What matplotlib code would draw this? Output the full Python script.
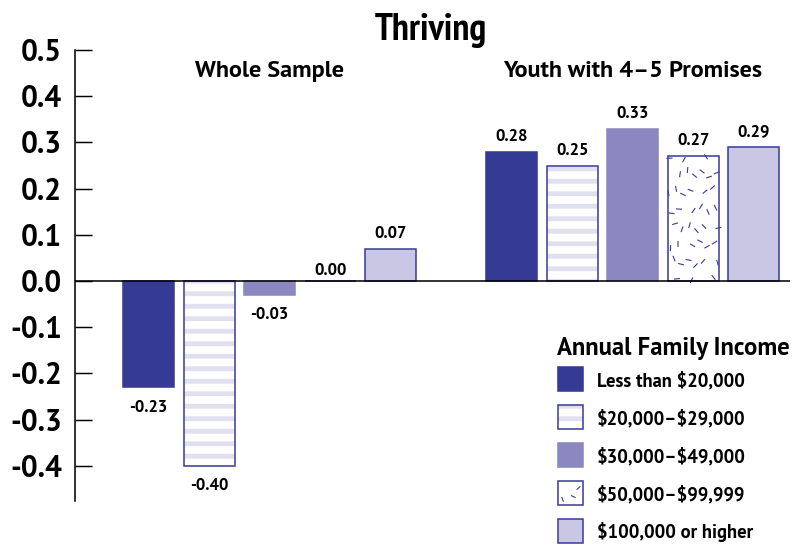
import numpy as np
import matplotlib
matplotlib.use("Agg")
import matplotlib.pyplot as plt
from matplotlib.patches import Rectangle
from matplotlib.collections import LineCollection
from matplotlib.transforms import IdentityTransform

# ---------------- data ----------------
title = "Thriving"
groups = ["Whole Sample", "Youth with 4\u20135 Promises"]
categories = ["Less than $20,000", "$20,000\u2013$29,000", "$30,000\u2013$49,000",
              "$50,000\u2013$99,999", "$100,000 or higher"]
whole_sample = [-0.23, -0.40, -0.03, 0.00, 0.07]
promises_4_5 = [0.28, 0.25, 0.33, 0.27, 0.29]
legend_title = "Annual Family Income"
yticks = [-0.4, -0.3, -0.2, -0.1, 0.0, 0.1, 0.2, 0.3, 0.4, 0.5]

# ---------------- style ----------------
DPI = 75
W, H = 792, 546
NAVY = "#353a94"
EDGE = "#3b3f9c"
MID = "#8b87c0"
LIGHT = "#c9c7e3"
STRIPE = "#e1e0ef"
styles = [
    dict(kind="solid", face=NAVY, edge=NAVY),
    dict(kind="stripe", face="white", edge=EDGE),
    dict(kind="solid", face=MID, edge=MID),
    dict(kind="dash", face="white", edge=EDGE),
    dict(kind="solid", face=LIGHT, edge=EDGE),
]
NARROW = ["PT Sans Narrow", "DejaVu Sans"]
SANS = ["PT Sans", "DejaVu Sans"]

plt.rcParams["axes.unicode_minus"] = False
plt.rcParams["text.parse_math"] = False
plt.rcParams["hatch.linewidth"] = 4.6

fig = plt.figure(figsize=(W / DPI, H / DPI), dpi=DPI)

def fx(x):
    return x / W

def fy(y):
    return 1 - y / H

ax_left, ax_right, ax_top, ax_bot = 75, 790, 50, 501
ax = fig.add_axes([fx(ax_left), fy(ax_bot), (ax_right - ax_left) / W, (ax_bot - ax_top) / H])
ax.set_xlim(-1.215, 10.60)
ax.set_ylim(-0.476, 0.5)
for s in ["top", "right", "bottom"]:
    ax.spines[s].set_visible(False)
ax.spines["left"].set_linewidth(1.5)
ax.set_xticks([])
ax.set_yticks(yticks)
ax.set_yticklabels([f"{v:.1f}" for v in yticks])
ax.tick_params(axis="y", direction="in", length=16.3, width=1.4, pad=12.5)
for lab in ax.get_yticklabels():
    lab.set_fontfamily(SANS)
    lab.set_fontweight("bold")
    lab.set_fontsize(28.5)
ax.axhline(0, color="black", lw=1.5, zorder=5)

bar_w = 0.843
group_gap = 6
positions = [[i + g * group_gap for i in range(len(categories))] for g in range(len(groups))]
series = [whole_sample, promises_4_5]

g_ratio = 1.32471795724474602596


def dash_texture(x0, y0, x1, y1, clip, transform, density=1 / 150.0, length=6.0, lw=1.1):
    # deterministic low-discrepancy placement of short strokes (texture only)
    area = abs(x1 - x0) * abs(y1 - y0)
    n = int(area * density)
    if n <= 0:
        return None
    segs = []
    for i in range(1, n + 1):
        u = (0.37 + i / g_ratio) % 1.0
        v = (0.61 + i / g_ratio ** 2) % 1.0
        a = ((i * 0.6180339887) % 1.0) * np.pi
        cx = x0 + u * (x1 - x0)
        cy = y0 + v * (y1 - y0)
        dx = 0.5 * length * np.cos(a)
        dy = 0.5 * length * np.sin(a)
        segs.append([(cx - dx, cy - dy), (cx + dx, cy + dy)])
    lc = LineCollection(segs, colors=EDGE, linewidths=lw, transform=transform)
    if clip is not None:
        lc.set_clip_path(clip)
    return lc


fig.canvas.draw()
for g, vals in enumerate(series):
    for i, (x, v) in enumerate(zip(positions[g], vals)):
        st = styles[i]
        if st["kind"] == "solid":
            ax.bar(x, v, width=bar_w, color=st["face"], edgecolor=st["edge"], linewidth=1.5, zorder=2)
        elif st["kind"] == "stripe":
            ax.bar(x, v, width=bar_w, color="white", edgecolor=STRIPE, hatch="-", linewidth=0, zorder=2)
            ax.bar(x, v, width=bar_w, fill=False, edgecolor=st["edge"], linewidth=1.5, zorder=3)
        else:
            bars = ax.bar(x, v, width=bar_w, color="white", edgecolor=st["edge"], linewidth=1.5, zorder=2)
            patch = bars[0]
            if v != 0:
                (px0, py0) = ax.transData.transform((x - bar_w / 2, 0))
                (px1, py1) = ax.transData.transform((x + bar_w / 2, v))
                lc = dash_texture(px0, min(py0, py1), px1, max(py0, py1), patch, IdentityTransform())
                if lc is not None:
                    lc.set_zorder(2.5)
                    ax.add_collection(lc, autolim=False)
        off = 10.5 if v > 0 else (6 if v == 0 else -23.5)
        ax.annotate(f"{v:.2f}", (x, v), xytext=(0, off), textcoords="offset points",
                    ha="center", va="baseline", fontsize=16, fontweight="bold",
                    fontfamily=SANS, zorder=6)

# group headings
for g, name in enumerate(groups):
    ax.text(np.mean(positions[g]), 0.4416, name, ha="center", va="baseline",
            fontsize=23.3, fontweight="bold", fontfamily=SANS)

# title
fig.text(fx(431), fy(40), title, ha="center", va="baseline", fontsize=36.5,
         fontweight="bold", fontfamily=NARROW)

# legend (manual)
fig.text(fx(557), fy(355), legend_title, ha="left", va="baseline", fontsize=23.6,
         fontweight="bold", fontfamily=SANS)
for i, cat in enumerate(categories):
    st = styles[i]
    yc = 379 + 38 * i
    x0, x1 = 558, 583
    y0, y1 = yc - 12, yc + 12
    rect_args = dict(transform=fig.transFigure, zorder=3)
    if st["kind"] == "solid":
        r = Rectangle((fx(x0), fy(y1)), (x1 - x0) / W, (y1 - y0) / H,
                      facecolor=st["face"], edgecolor=st["edge"], linewidth=1.5, **rect_args)
        fig.add_artist(r)
    elif st["kind"] == "stripe":
        r0 = Rectangle((fx(x0), fy(y1)), (x1 - x0) / W, (y1 - y0) / H,
                       facecolor="white", edgecolor=STRIPE, hatch="-", linewidth=0, **rect_args)
        r1 = Rectangle((fx(x0), fy(y1)), (x1 - x0) / W, (y1 - y0) / H,
                       fill=False, edgecolor=st["edge"], linewidth=1.5, transform=fig.transFigure, zorder=4)
        fig.add_artist(r0)
        fig.add_artist(r1)
    else:
        r = Rectangle((fx(x0), fy(y1)), (x1 - x0) / W, (y1 - y0) / H,
                      facecolor="white", edgecolor=st["edge"], linewidth=1.5, **rect_args)
        fig.add_artist(r)
        lc = dash_texture(x0 + 2, H - y1 + 2, x1 - 2, H - y0 - 2, None, IdentityTransform(),
                          density=1 / 130.0, length=5.0)
        if lc is not None:
            lc.set_zorder(4)
            fig.add_artist(lc)
    fig.text(fx(597), fy(yc + 7), cat, ha="left", va="baseline", fontsize=17.9,
             fontweight="bold", fontfamily=SANS)

fig.savefig("out.png", dpi=DPI)
